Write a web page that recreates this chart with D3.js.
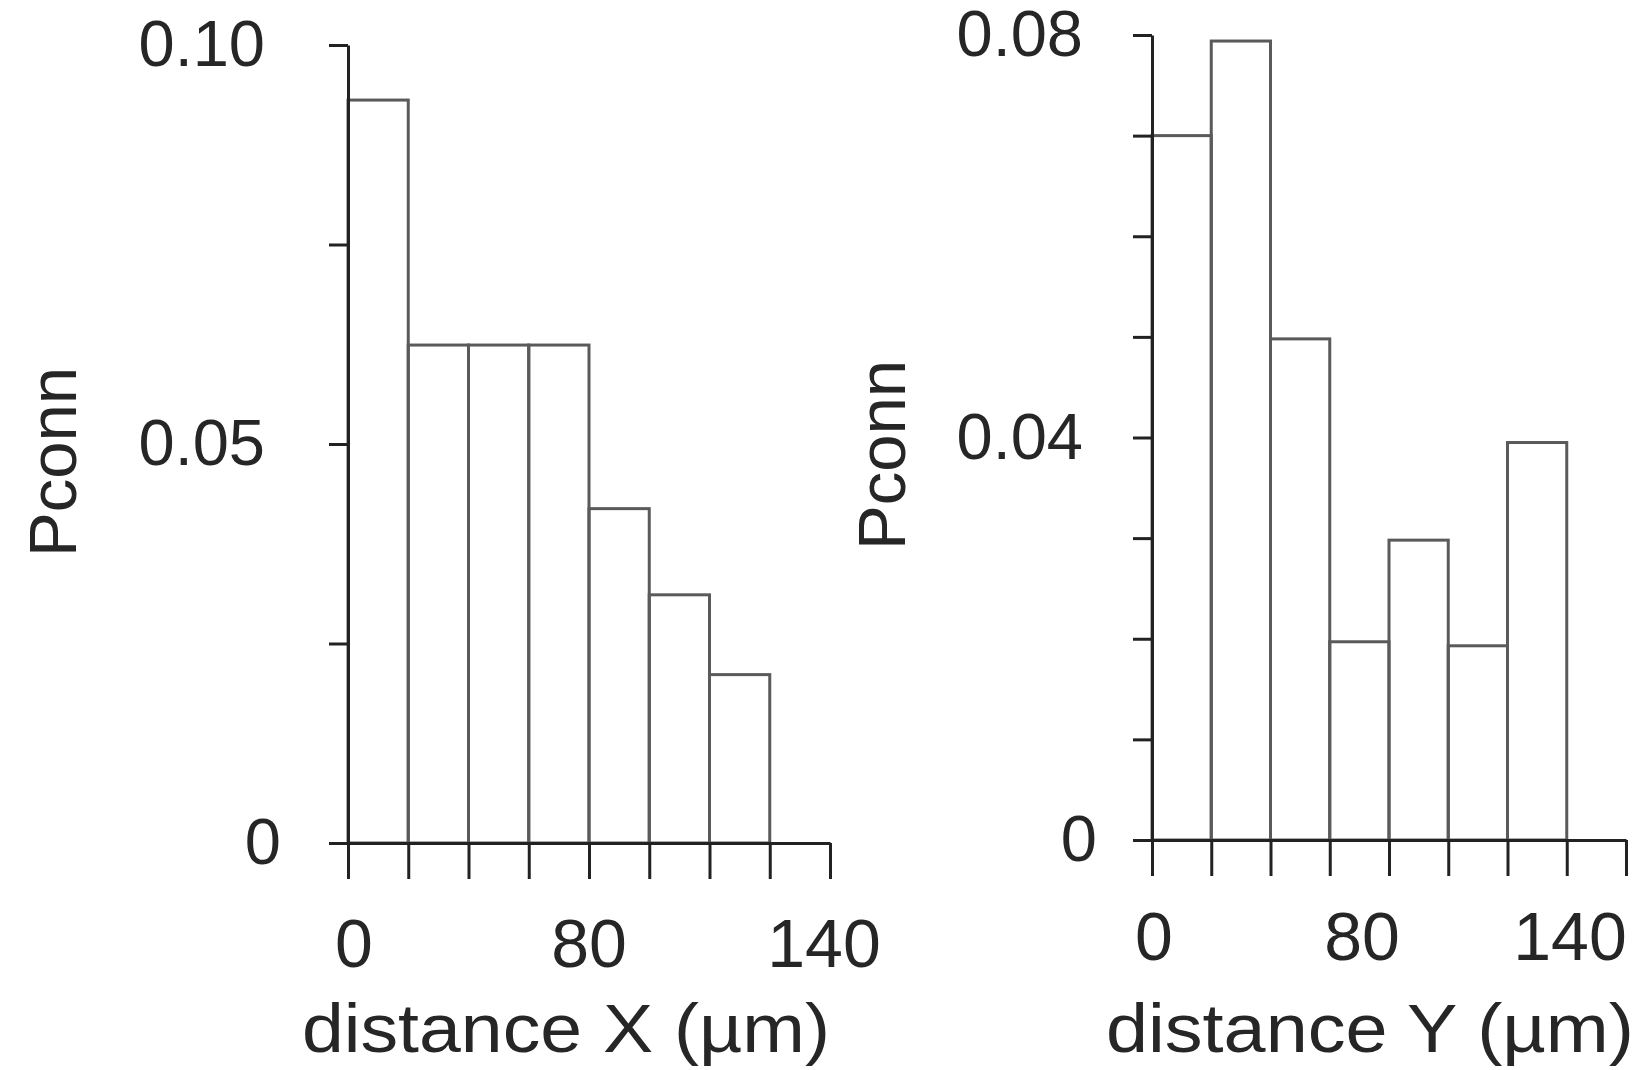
<!DOCTYPE html>
<html>
<head>
<meta charset="utf-8">
<script src="https://cdn.jsdelivr.net/npm/d3@7"></script>
<style>
  body { margin: 0; background: #fff; }
  text { font-family: "Liberation Sans", Arial, sans-serif; fill: #262626; }
</style>
</head>
<body>
<div id="chart-area"></div>
<script>
// histogram data, bins are 20 um wide
const binStarts = [0, 20, 40, 60, 80, 100, 120]
const pconnX = [0.0931, 0.0624, 0.0624, 0.0624, 0.0419, 0.0311, 0.0211]
const pconnY = [0.070, 0.0794, 0.0498, 0.0197, 0.0298, 0.0193, 0.0395]

const xTickLabels = ["0", "80", "140"]
const yTicksX = [0, 0.025, 0.05, 0.075, 0.10]
const yLabelsX = { 0: "0", 0.05: "0.05", 0.1: "0.10" }
const yTicksY = [0, 0.01, 0.02, 0.03, 0.04, 0.05, 0.06, 0.07, 0.08]
const yLabelsY = { 0: "0", 0.04: "0.04", 0.08: "0.08" }

const BIN = 20
const W = 1646, H = 1070

const svg = d3.select("#chart-area")
  .append("svg")
  .attr("width", W)
  .attr("height", H)

function drawPanel(opt) {
  const g = svg.append("g")

  const x = d3.scaleLinear().domain([0, 160]).range(opt.xRange)
  const y = d3.scaleLinear().domain(opt.yDomain).range(opt.yRange)

  // bars first, axes on top
  g.selectAll("rect.bar")
    .data(opt.values)
    .enter()
    .append("rect")
    .attr("class", "bar")
    .attr("x", (d, i) => x(binStarts[i]))
    .attr("y", d => y(d))
    .attr("width", (d, i) => x(binStarts[i] + BIN) - x(binStarts[i]))
    .attr("height", d => y(0) - y(d))
    .attr("fill", "none")
    .attr("stroke", "#5a5a5a")
    .attr("stroke-width", 3)

  const xAxis = d3.axisBottom(x)
    .tickValues(d3.range(0, 161, BIN))
    .tickFormat("")
    .tickSize(36)
    .tickSizeOuter(0)
  g.append("g")
    .attr("transform", `translate(0, ${y(0)})`)
    .call(xAxis)

  const yAxis = d3.axisLeft(y)
    .tickValues(opt.yTicks)
    .tickFormat(d => opt.yLabels[+d.toFixed(3)] || "")
    .tickSize(19)
    .tickSizeOuter(0)
    .tickPadding(opt.yPad)
  const yg = g.append("g")
    .attr("transform", `translate(${opt.xRange[0]}, 0)`)
    .call(yAxis)

  g.selectAll(".domain, .tick line")
    .attr("stroke", "#222")
    .attr("stroke-width", 3)
  yg.selectAll("text")
    .style("font-size", "65px")
    .style("font-family", "Liberation Sans, Arial, sans-serif")
    .attr("fill", "#262626")
  // the zero label sits a bit closer to the axis in the original
  yg.selectAll(".tick text")
    .filter(d => d === 0)
    .attr("dx", opt.zeroShift)

  // the printed x labels sit evenly spaced under the axis
  const lab = d3.scalePoint().domain(xTickLabels).range(opt.labRange)
  g.selectAll("text.xlab")
    .data(xTickLabels)
    .enter()
    .append("text")
    .attr("class", "xlab")
    .attr("x", d => lab(d))
    .attr("y", opt.labY)
    .attr("text-anchor", "middle")
    .style("font-size", "68px")
    .text(d => d)

  g.append("text")
    .attr("x", opt.titleX)
    .attr("y", 1052)
    .attr("text-anchor", "middle")
    .attr("textLength", 528)
    .attr("lengthAdjust", "spacingAndGlyphs")
    .style("font-size", "68px")
    .text(opt.title)

  g.append("text")
    .attr("transform", `translate(${opt.pX}, ${opt.pY}) rotate(-90)`)
    .attr("text-anchor", "middle")
    .style("font-size", "67px")
    .text("Pconn")
}

drawPanel({
  values: pconnX,
  xRange: [348, 830],
  yDomain: [0, 0.10],
  yRange: [843, 45],
  yTicks: yTicksX,
  yLabels: yLabelsX,
  yPad: 64,
  zeroShift: 16,
  labRange: [354, 824],
  labY: 967,
  title: "distance X (\u00b5m)",
  titleX: 566,
  pX: 76,
  pY: 462
})

drawPanel({
  values: pconnY,
  xRange: [1152, 1626],
  yDomain: [0, 0.08],
  yRange: [840, 35],
  yTicks: yTicksY,
  yLabels: yLabelsY,
  yPad: 50,
  zeroShift: 14,
  labRange: [1154, 1570],
  labY: 960,
  title: "distance Y (\u00b5m)",
  titleX: 1370,
  pX: 905,
  pY: 455
})
</script>
</body>
</html>
